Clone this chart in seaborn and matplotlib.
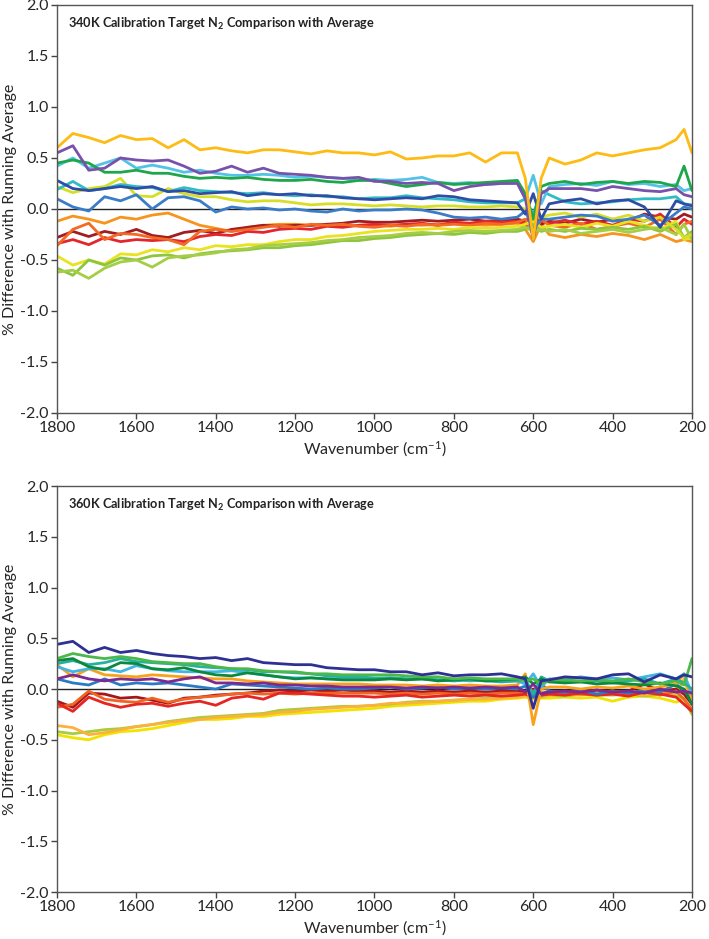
import matplotlib
matplotlib.use("Agg")
import matplotlib.pyplot as plt
import seaborn as sns
import pandas as pd

# ---------------- data ----------------
wavenumber = [1800, 1760, 1720, 1680, 1640, 1600, 1560, 1520, 1480, 1440, 1400, 1360, 1320,
              1280, 1240, 1200, 1160, 1120, 1080, 1040, 1000, 960, 920, 880, 840, 800, 760,
              720, 680, 640, 620, 600, 580, 560, 520, 480, 440, 400, 360, 320, 280, 240, 220, 200]

# 340K panel
t_gold = [0.60, 0.74, 0.70, 0.65, 0.72, 0.68, 0.69, 0.60, 0.68, 0.58, 0.60, 0.57, 0.55, 0.58, 0.58,
          0.56, 0.54, 0.57, 0.55, 0.55, 0.53, 0.56, 0.49, 0.50, 0.52, 0.52, 0.55, 0.46, 0.55, 0.55,
          0.30, -0.30, 0.30, 0.50, 0.44, 0.48, 0.55, 0.52, 0.55, 0.58, 0.60, 0.68, 0.78, 0.55]
t_purple = [0.55, 0.62, 0.38, 0.40, 0.50, 0.48, 0.47, 0.48, 0.42, 0.35, 0.37, 0.42, 0.36, 0.40, 0.35,
            0.34, 0.33, 0.31, 0.30, 0.31, 0.27, 0.27, 0.25, 0.26, 0.25, 0.18, 0.22, 0.24, 0.25, 0.25,
            0.10, -0.30, 0.15, 0.20, 0.20, 0.20, 0.18, 0.22, 0.20, 0.18, 0.17, 0.20, 0.14, 0.12]
t_green = [0.45, 0.48, 0.45, 0.36, 0.36, 0.38, 0.35, 0.35, 0.32, 0.30, 0.31, 0.30, 0.31, 0.29, 0.28,
           0.28, 0.29, 0.27, 0.26, 0.28, 0.28, 0.25, 0.22, 0.24, 0.26, 0.24, 0.25, 0.26, 0.27, 0.28,
           0.15, -0.10, 0.22, 0.25, 0.27, 0.24, 0.26, 0.27, 0.25, 0.27, 0.26, 0.22, 0.42, 0.18]
t_sky = [0.42, 0.50, 0.40, 0.45, 0.50, 0.40, 0.43, 0.40, 0.36, 0.38, 0.35, 0.33, 0.33, 0.34, 0.33,
         0.31, 0.32, 0.31, 0.30, 0.28, 0.29, 0.28, 0.29, 0.31, 0.26, 0.25, 0.26, 0.24, 0.25, 0.26,
         0.10, 0.33, 0.05, 0.22, 0.24, 0.25, 0.23, 0.27, 0.24, 0.25, 0.22, 0.24, 0.18, 0.20]
t_teal = [0.19, 0.27, 0.18, 0.20, 0.24, 0.22, 0.21, 0.17, 0.21, 0.18, 0.17, 0.16, 0.15, 0.16, 0.14,
          0.13, 0.14, 0.12, 0.12, 0.10, 0.11, 0.11, 0.13, 0.11, 0.10, 0.09, 0.07, 0.06, 0.06, 0.06,
          0.10, -0.05, 0.18, 0.14, 0.07, 0.05, 0.06, 0.07, 0.09, 0.10, 0.10, 0.12, 0.05, 0.04]
t_royal = [0.28, 0.20, 0.18, 0.20, 0.22, 0.20, 0.22, 0.17, 0.18, 0.15, 0.16, 0.17, 0.13, 0.15, 0.14,
           0.15, 0.13, 0.13, 0.11, 0.10, 0.09, 0.10, 0.11, 0.10, 0.13, 0.12, 0.09, 0.08, 0.07, 0.06,
           -0.05, 0.15, -0.10, 0.05, 0.08, 0.10, 0.05, 0.08, 0.09, 0.02, -0.18, 0.08, 0.05, 0.03]
t_blue = [0.10, 0.02, -0.02, 0.12, 0.08, 0.14, 0.00, 0.11, 0.12, 0.08, -0.03, 0.02, 0.00, 0.01, -0.01,
          0.00, -0.02, -0.03, 0.00, -0.02, -0.01, -0.01, 0.00, -0.01, -0.04, -0.08, -0.09, -0.08, -0.10, -0.08,
          -0.02, -0.20, -0.10, -0.10, -0.08, -0.06, -0.07, -0.12, -0.10, -0.06, -0.16, -0.04, 0.02, 0.00]
t_lime = [0.22, 0.16, 0.20, 0.22, 0.30, 0.13, 0.12, 0.20, 0.15, 0.12, 0.12, 0.09, 0.07, 0.08, 0.08,
          0.06, 0.04, 0.05, 0.05, 0.04, 0.03, 0.04, 0.03, 0.02, 0.03, 0.03, 0.02, 0.02, 0.03, 0.02,
          0.00, -0.10, -0.08, -0.06, -0.04, -0.08, -0.05, -0.10, -0.06, -0.12, -0.08, -0.20, -0.28, -0.25]
t_orange = [-0.12, -0.07, -0.10, -0.14, -0.08, -0.10, -0.06, -0.04, -0.10, -0.16, -0.19, -0.22, -0.18, -0.16, -0.15,
            -0.15, -0.16, -0.15, -0.17, -0.16, -0.16, -0.17, -0.15, -0.16, -0.15, -0.14, -0.15, -0.16, -0.15, -0.14,
            -0.20, -0.32, -0.15, -0.25, -0.28, -0.25, -0.27, -0.24, -0.26, -0.30, -0.25, -0.32, -0.30, -0.32]
t_darkred = [-0.28, -0.22, -0.27, -0.22, -0.25, -0.20, -0.26, -0.28, -0.23, -0.21, -0.24, -0.20, -0.18, -0.16, -0.17,
             -0.16, -0.16, -0.15, -0.14, -0.12, -0.13, -0.13, -0.12, -0.11, -0.12, -0.11, -0.10, -0.12, -0.11, -0.10,
             -0.12, -0.05, -0.15, -0.12, -0.14, -0.10, -0.13, -0.10, -0.12, -0.05, -0.08, -0.10, -0.05, -0.08]
t_red = [-0.34, -0.30, -0.35, -0.28, -0.32, -0.30, -0.31, -0.30, -0.32, -0.27, -0.25, -0.26, -0.22, -0.23, -0.20,
         -0.19, -0.20, -0.17, -0.18, -0.16, -0.15, -0.16, -0.15, -0.14, -0.16, -0.13, -0.14, -0.12, -0.13, -0.12,
         -0.15, -0.20, -0.12, -0.14, -0.11, -0.15, -0.12, -0.16, -0.10, -0.12, -0.05, -0.18, -0.10, -0.15]
t_orangered = [-0.36, -0.20, -0.14, -0.30, -0.24, -0.25, -0.28, -0.30, -0.35, -0.22, -0.20, -0.22, -0.20, -0.18, -0.16,
               -0.18, -0.15, -0.16, -0.15, -0.17, -0.18, -0.16, -0.17, -0.15, -0.16, -0.15, -0.16, -0.14, -0.15, -0.13,
               -0.10, -0.25, -0.10, -0.16, -0.18, -0.14, -0.20, -0.17, -0.14, -0.18, -0.10, -0.25, -0.15, -0.12]
t_yellow = [-0.46, -0.55, -0.50, -0.54, -0.44, -0.45, -0.40, -0.42, -0.38, -0.40, -0.36, -0.37, -0.35, -0.35, -0.32,
            -0.30, -0.30, -0.27, -0.26, -0.24, -0.22, -0.21, -0.20, -0.20, -0.19, -0.20, -0.18, -0.19, -0.18, -0.17,
            -0.15, -0.12, -0.18, -0.17, -0.15, -0.18, -0.14, -0.17, -0.12, -0.16, -0.20, -0.12, -0.30, -0.28]
t_yg = [-0.58, -0.65, -0.50, -0.55, -0.48, -0.50, -0.46, -0.45, -0.48, -0.44, -0.42, -0.41, -0.40, -0.38, -0.38,
        -0.36, -0.35, -0.33, -0.31, -0.31, -0.29, -0.28, -0.26, -0.25, -0.24, -0.25, -0.23, -0.24, -0.22, -0.22,
        -0.20, -0.15, -0.22, -0.20, -0.22, -0.19, -0.20, -0.18, -0.20, -0.17, -0.22, -0.15, -0.28, -0.22]
t_lightgreen = [-0.62, -0.60, -0.68, -0.58, -0.52, -0.50, -0.57, -0.48, -0.46, -0.45, -0.43, -0.40, -0.39, -0.36, -0.35,
                -0.34, -0.33, -0.31, -0.30, -0.28, -0.27, -0.26, -0.24, -0.23, -0.24, -0.22, -0.21, -0.22, -0.21, -0.20,
                -0.18, -0.22, -0.20, -0.22, -0.20, -0.24, -0.22, -0.20, -0.23, -0.20, -0.18, -0.25, -0.15, -0.30]

# 360K panel
b_navy = [0.44, 0.47, 0.36, 0.41, 0.36, 0.38, 0.35, 0.33, 0.32, 0.30, 0.31, 0.28, 0.30, 0.26, 0.25,
          0.24, 0.24, 0.21, 0.20, 0.19, 0.19, 0.17, 0.17, 0.14, 0.16, 0.13, 0.14, 0.14, 0.15, 0.12,
          0.10, -0.19, 0.08, 0.09, 0.12, 0.11, 0.10, 0.14, 0.15, 0.07, 0.14, 0.10, 0.14, 0.12]
b_green = [0.30, 0.35, 0.32, 0.30, 0.32, 0.30, 0.27, 0.26, 0.25, 0.25, 0.22, 0.20, 0.20, 0.18, 0.17,
           0.17, 0.15, 0.15, 0.14, 0.14, 0.14, 0.14, 0.13, 0.12, 0.12, 0.10, 0.11, 0.10, 0.10, 0.10,
           0.08, 0.10, 0.05, 0.09, 0.09, 0.08, 0.09, 0.08, 0.10, 0.07, 0.05, 0.08, 0.04, 0.30]
b_darkgreen = [0.28, 0.30, 0.22, 0.19, 0.26, 0.25, 0.20, 0.19, 0.21, 0.17, 0.14, 0.13, 0.16, 0.14, 0.12,
               0.10, 0.11, 0.10, 0.09, 0.09, 0.09, 0.10, 0.09, 0.10, 0.08, 0.09, 0.10, 0.08, 0.09, 0.10,
               0.12, 0.05, 0.10, 0.07, 0.06, 0.07, 0.05, 0.06, 0.05, 0.04, 0.06, 0.03, 0.00, -0.15]
b_teal = [0.25, 0.28, 0.24, 0.26, 0.30, 0.27, 0.26, 0.25, 0.24, 0.22, 0.21, 0.20, 0.19, 0.17, 0.17,
          0.16, 0.15, 0.13, 0.12, 0.12, 0.11, 0.11, 0.10, 0.10, 0.09, 0.08, 0.09, 0.08, 0.07, 0.08,
          0.10, -0.05, 0.12, 0.08, 0.08, 0.07, 0.08, 0.06, 0.08, 0.10, 0.05, 0.10, 0.06, 0.00]
b_sky = [0.22, 0.17, 0.20, 0.20, 0.17, 0.23, 0.20, 0.18, 0.17, 0.17, 0.17, 0.18, 0.16, 0.14, 0.12,
         0.11, 0.11, 0.10, 0.10, 0.10, 0.10, 0.11, 0.10, 0.10, 0.09, 0.10, 0.08, 0.09, 0.08, 0.08,
         0.05, 0.15, 0.02, 0.10, 0.10, 0.12, 0.10, 0.11, 0.09, 0.12, 0.15, 0.10, 0.15, -0.05]
b_orange = [0.24, 0.12, 0.20, 0.14, 0.13, 0.12, 0.14, 0.13, 0.12, 0.11, 0.10, 0.10, 0.08, 0.07, 0.06,
            0.05, 0.05, 0.05, 0.05, 0.05, 0.04, 0.04, 0.04, 0.03, 0.04, 0.03, 0.04, 0.03, 0.03, 0.04,
            0.15, -0.35, 0.00, 0.02, 0.02, 0.00, 0.02, 0.01, 0.03, 0.00, 0.02, 0.05, 0.15, -0.10]
b_blue = [0.10, 0.06, 0.04, 0.10, 0.04, 0.06, 0.05, 0.06, 0.04, 0.02, 0.00, 0.05, 0.04, 0.03, 0.02,
          0.01, 0.00, 0.01, 0.00, 0.00, 0.01, 0.02, 0.00, 0.01, 0.02, 0.00, 0.01, 0.00, 0.01, 0.00,
          0.03, -0.08, 0.05, -0.02, -0.03, -0.01, -0.05, -0.02, -0.04, -0.01, -0.03, 0.05, -0.02, -0.10]
b_purple = [0.10, 0.14, 0.10, 0.08, 0.10, 0.09, 0.10, 0.07, 0.10, 0.12, 0.06, 0.06, 0.05, 0.06, 0.04,
            0.04, 0.03, 0.03, 0.02, 0.02, 0.02, 0.02, 0.01, 0.02, 0.01, 0.02, 0.01, 0.02, 0.01, 0.02,
            -0.03, 0.05, -0.05, -0.03, -0.02, -0.03, -0.01, -0.03, -0.02, -0.04, 0.00, -0.03, -0.02, -0.04]
b_darkred = [-0.12, -0.18, -0.04, -0.05, -0.09, -0.08, -0.11, -0.14, -0.09, -0.08, -0.06, -0.05, -0.04, -0.02, -0.01,
             -0.02, -0.01, -0.02, -0.01, -0.02, -0.02, -0.03, -0.02, -0.03, -0.02, -0.03, -0.02, -0.03, -0.02, -0.02,
             -0.03, 0.00, -0.04, -0.03, -0.02, -0.04, -0.01, -0.03, -0.02, 0.05, -0.02, 0.00, -0.05, -0.15]
b_orangered = [-0.18, -0.15, -0.02, -0.10, -0.12, -0.13, -0.09, -0.13, -0.10, -0.08, -0.07, -0.05, -0.04, -0.05, -0.04,
               -0.05, -0.04, -0.04, -0.04, -0.04, -0.04, -0.05, -0.04, -0.05, -0.04, -0.05, -0.04, -0.05, -0.04, -0.04,
               -0.05, -0.02, -0.06, -0.05, -0.04, -0.05, -0.06, -0.04, -0.05, -0.03, -0.06, -0.02, -0.10, -0.20]
b_red = [-0.14, -0.22, -0.08, -0.14, -0.18, -0.15, -0.14, -0.17, -0.14, -0.12, -0.16, -0.09, -0.07, -0.10, -0.04,
         -0.04, -0.05, -0.06, -0.07, -0.07, -0.08, -0.07, -0.06, -0.08, -0.07, -0.06, -0.07, -0.06, -0.07, -0.06,
         -0.05, -0.08, -0.06, -0.05, -0.06, -0.04, -0.06, -0.05, -0.07, -0.03, -0.05, -0.08, -0.15, -0.22]
b_yellow = [-0.45, -0.48, -0.50, -0.45, -0.42, -0.41, -0.39, -0.36, -0.33, -0.30, -0.30, -0.29, -0.27, -0.27, -0.25,
            -0.24, -0.23, -0.22, -0.21, -0.20, -0.19, -0.17, -0.16, -0.15, -0.14, -0.13, -0.12, -0.12, -0.10, -0.09,
            -0.08, -0.10, -0.09, -0.09, -0.08, -0.09, -0.08, -0.12, -0.08, -0.07, -0.09, -0.13, -0.10, -0.05]
b_yg = [-0.42, -0.44, -0.42, -0.40, -0.39, -0.37, -0.35, -0.32, -0.30, -0.28, -0.27, -0.26, -0.25, -0.24, -0.21,
        -0.20, -0.19, -0.18, -0.17, -0.17, -0.16, -0.15, -0.13, -0.12, -0.12, -0.11, -0.10, -0.09, -0.08, -0.07,
        -0.06, -0.05, -0.08, -0.06, -0.07, -0.05, -0.06, -0.06, -0.05, -0.07, -0.05, -0.06, -0.10, -0.25]
b_gold = [-0.36, -0.38, -0.45, -0.43, -0.40, -0.37, -0.35, -0.33, -0.31, -0.30, -0.28, -0.27, -0.26, -0.25, -0.23,
          -0.22, -0.20, -0.19, -0.18, -0.17, -0.16, -0.14, -0.14, -0.13, -0.12, -0.11, -0.10, -0.10, -0.09, -0.08,
          -0.07, -0.06, -0.07, -0.06, -0.05, -0.06, -0.04, -0.05, -0.04, -0.06, -0.03, -0.05, 0.10, -0.15]

top_series = {
    "orange": t_orange, "darkred": t_darkred, "red": t_red, "orangered": t_orangered,
    "yellow": t_yellow, "yg": t_yg, "lightgreen": t_lightgreen, "lime": t_lime,
    "teal": t_teal, "blue": t_blue, "royal": t_royal, "sky": t_sky, "green": t_green,
    "purple": t_purple, "gold": t_gold,
}
top_colors = {
    "gold": "#FDBB13", "purple": "#7852AA", "green": "#1DA64A", "sky": "#52C3E6",
    "teal": "#30BCC4", "royal": "#2F4DA6", "blue": "#3B7CC9", "lime": "#D6DF26",
    "orange": "#F7941D", "darkred": "#A11D22", "red": "#E3262B", "orangered": "#F26A23",
    "yellow": "#E9E21F", "yg": "#8CC63F", "lightgreen": "#A5CD45",
}
bot_series = {
    "yellow": b_yellow, "yg": b_yg, "gold": b_gold, "darkred": b_darkred,
    "orangered": b_orangered, "red": b_red, "blue": b_blue, "orange": b_orange,
    "sky": b_sky, "teal": b_teal, "darkgreen": b_darkgreen, "green": b_green,
    "purple": b_purple, "navy": b_navy,
}
bot_colors = {
    "navy": "#2E3192", "green": "#4CB84A", "darkgreen": "#0B8A3E", "teal": "#26B0A2",
    "sky": "#40B5E6", "orange": "#F9A11B", "blue": "#2B7BC4", "purple": "#7D2A8E",
    "darkred": "#A3171D", "orangered": "#F06424", "red": "#E52521", "yellow": "#F2E200",
    "yg": "#A9CC3A", "gold": "#FBB13C",
}
titles = ["340K Calibration Target N$_{\\mathbf{2}}$ Comparison with Average",
          "360K Calibration Target N$_{\\mathbf{2}}$ Comparison with Average"]
y_ticks = [-2.0, -1.5, -1.0, -0.5, 0.0, 0.5, 1.0, 1.5, 2.0]
x_ticks = [1800, 1600, 1400, 1200, 1000, 800, 600, 400, 200]


def to_long(series):
    rows = []
    for name, vals in series.items():
        for w, v in zip(wavenumber, vals):
            rows.append({"wn": w, "val": v, "series": name})
    return pd.DataFrame(rows)


# ---------------- plotting ----------------
sns.set_theme(style="white")
plt.rcParams["font.family"] = ["Lato", "DejaVu Sans"]
plt.rcParams["mathtext.fontset"] = "custom"
plt.rcParams["mathtext.rm"] = "Lato"
plt.rcParams["mathtext.bf"] = "Lato:bold"
plt.rcParams["mathtext.it"] = "Lato:italic"

fig = plt.figure(figsize=(7.09, 9.39), dpi=100)
ax_top = fig.add_axes([0.0804, 0.5602, 0.8956, 0.4345])
ax_bot = fig.add_axes([0.0804, 0.0500, 0.8956, 0.4324])

for ax, series, colors, title in [(ax_top, top_series, top_colors, titles[0]),
                                  (ax_bot, bot_series, bot_colors, titles[1])]:
    df = to_long(series)
    ax.axhline(0, color="#222222", lw=1.0, zorder=1)
    sns.lineplot(data=df, x="wn", y="val", hue="series", hue_order=list(series.keys()),
                 palette=colors, linewidth=2.0, legend=False, ax=ax, zorder=2)
    ax.set_xlim(1800, 200)
    ax.set_ylim(-2.0, 2.0)
    ax.set_xticks(x_ticks)
    ax.set_yticks(y_ticks)
    ax.set_yticklabels([f"{t:.1f}" for t in y_ticks])
    ax.tick_params(axis="both", direction="out", length=4, width=1, color="#444444",
                   labelsize=11.5, pad=2, bottom=True, left=True)
    for s in ax.spines.values():
        s.set_color("#555555")
        s.set_linewidth(1.0)
    ax.set_xlabel("Wavenumber (cm$^{-1}$)", fontsize=11.5, labelpad=3)
    ax.set_ylabel("% Difference with Running Average", fontsize=11.5, labelpad=2)
    ax.text(0.018, 0.953, title, transform=ax.transAxes, fontsize=9.2,
            fontweight="bold", va="center", ha="left", color="#222222")

fig.savefig("out.png", dpi=100)
